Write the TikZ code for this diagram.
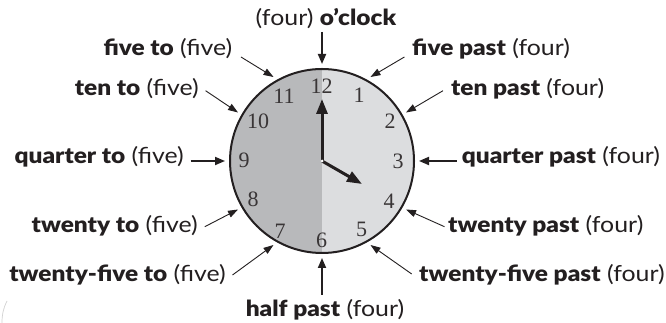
\documentclass[tikz,border=0pt]{standalone}
\usepackage{fontspec}
\setmainfont{Lato}[FakeStretch=1.13, BoldFont={Lato Black}, BoldFeatures={FakeStretch=1.11}]
\newfontfamily\numfont{Liberation Serif}
\usetikzlibrary{arrows.meta}
\definecolor{ink}{HTML}{231F20}
\definecolor{darkhalf}{HTML}{B8B9BB}
\definecolor{lighthalf}{HTML}{DCDDDF}
\begin{document}
\begin{tikzpicture}[x=1pt,y=1pt,
 lbl/.style={font=\fontsize{22}{26}\selectfont, text=ink, inner sep=0},
 num/.style={font=\numfont\fontsize{22}{24}\selectfont, text=ink!90, inner sep=0},
 thinarrow/.style={draw=ink, line width=0.9, -{Triangle[length=10pt,width=7pt]}},
 thickarrow/.style={draw=ink, line width=1.8, -{Triangle[length=10pt,width=8pt]}},
 hand/.style={draw=ink, line width=3, -{Triangle[length=15pt,width=11pt]}},
]
\useasboundingbox (0,0) rectangle (666,323);
\fill[white] (0,0) rectangle (666,323);
\coordinate (c) at (322,162);
\fill[darkhalf] (322,254) arc[start angle=90,end angle=270,radius=92] -- cycle;
\fill[lighthalf] (322,254) arc[start angle=90,end angle=-90,radius=92] -- cycle;
\node[circle, draw=ink, line width=2, minimum size=184pt, inner sep=0, outer sep=5pt] (clock) at (c) {};

% numbers
\node[num] (n12) at (321.7,236.3) {12};
\node[num] (n1) at (359,228) {1};
\node[num] (n2) at (390,201.3) {2};
\node[num] (n3) at (398,161.3) {3};
\node[num] (n4) at (389,121.3) {4};
\node[num] (n5) at (361.7,94) {5};
\node[num] (n6) at (321.7,83) {6};
\node[num] (n7) at (280,91.3) {7};
\node[num] (n8) at (253,124) {8};
\node[num] (n9) at (244,162.3) {9};
\node[num] (n10) at (258,201.3) {10};
\node[num] (n11) at (284,227) {11};

% hands
\coordinate (minute) at (322,224);
\coordinate (hour) at (362,139);
\draw[hand] (clock.center) -- (minute);
\draw[hand] (clock.center) -- (hour);
\fill[white] (clock.center) circle (1.5);

% labels
\node[lbl] (oclock) at (326,304) {(four) \textbf{o'clock}};
\node[lbl] (halfpast) at (325,13) {\textbf{half past} (four)};
\node[lbl, anchor=east] (fiveto) at (232.5,274) {\textbf{five to} (five)};
\node[lbl, anchor=east] (tento) at (199,234) {\textbf{ten to} (five)};
\node[lbl, anchor=east] (quarterto) at (184,166) {\textbf{quarter to} (five)};
\node[lbl, anchor=east] (twentyto) at (198,97.3) {\textbf{twenty to} (five)};
\node[lbl, anchor=east] (twentyfiveto) at (226,48) {\textbf{twenty-five to} (five)};
\node[lbl, anchor=west] (fivepast) at (412,274) {\textbf{five past} (four)};
\node[lbl, anchor=west] (tenpast) at (451,234) {\textbf{ten past} (four)};
\node[lbl, anchor=west] (quarterpast) at (461.6,166) {\textbf{quarter past} (four)};
\node[lbl, anchor=west] (twentypast) at (448,97.3) {\textbf{twenty past} (four)};
\node[lbl, anchor=west] (twentyfivepast) at (419,48) {\textbf{twenty-five past} (four)};

% arrow tails
\coordinate (a-oclock) at (322,291);
\coordinate (a-half) at (322,28);
\coordinate (a-quarterto) at (190.7,162);
\coordinate (a-quarterpast) at (456.5,162);
\coordinate (a-fiveto) at (241,266);
\coordinate (a-fivepast) at (404.4,266);
\coordinate (a-tento) at (205.6,232.3);
\coordinate (a-tenpast) at (443,232.3);
\coordinate (a-twentyto) at (204.8,96.3);
\coordinate (a-twentypast) at (444.5,96.3);
\coordinate (a-twentyfiveto) at (232.5,48);
\coordinate (a-twentyfivepast) at (411.7,49);

\draw[thickarrow] (a-oclock) -- (clock.90);
\draw[thickarrow] (a-half) -- (clock.270);
\draw[thickarrow] (a-quarterto) -- (clock.180);
\draw[thickarrow] (a-quarterpast) -- (clock.0);
\draw[thinarrow] (a-fiveto) -- (clock.120);
\draw[thinarrow] (a-fivepast) -- (clock.60);
\draw[thinarrow] (a-tento) -- (clock.150);
\draw[thinarrow] (a-tenpast) -- (clock.30);
\draw[thinarrow] (a-twentyto) -- (clock.210);
\draw[thinarrow] (a-twentypast) -- (clock.330);
\draw[thinarrow] (a-twentyfiveto) -- (clock.240);
\draw[thinarrow] (a-twentyfivepast) -- (clock.300);

% faint edge arc at bottom-left
\draw[gray!35, line width=0.7] (7,22) .. controls (3,14) and (2,8) .. (2,0);
\end{tikzpicture}
\end{document}
